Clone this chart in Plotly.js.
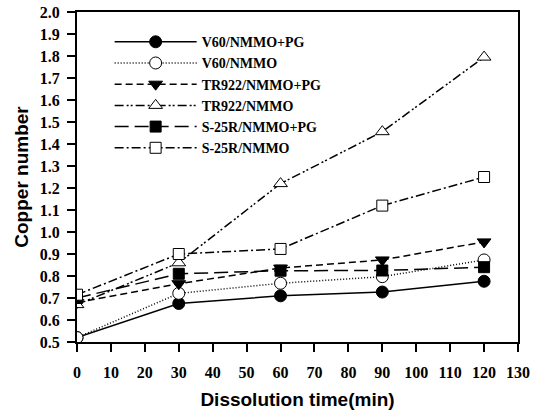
<!DOCTYPE html>
<html><head><meta charset="utf-8">
<script src="https://cdn.plot.ly/plotly-3.0.1.min.js"></script>
<style>html,body{margin:0;padding:0;background:#fff}#c{width:533px;height:416px}</style>
</head><body><div id="c"></div>
<script>
var time = [0, 30, 60, 90, 120];
var names = ["V60/NMMO+PG", "V60/NMMO", "TR922/NMMO+PG", "TR922/NMMO", "S-25R/NMMO+PG", "S-25R/NMMO"];
var v60PG = [0.52, 0.675, 0.71, 0.727, 0.776];
var v60 = [0.52, 0.721, 0.767, 0.797, 0.873];
var tr922PG = [0.68, 0.765, 0.836, 0.873, 0.955];
var tr922 = [0.67, 0.86, 1.22, 1.456, 1.795];
var s25rPG = [0.70, 0.81, 0.824, 0.825, 0.84];
var s25r = [0.715, 0.90, 0.923, 1.12, 1.25];
var xTicks = [0,10,20,30,40,50,60,70,80,90,100,110,120,130];
var yTicks = [0.5,0.6,0.7,0.8,0.9,1.0,1.1,1.2,1.3,1.4,1.5,1.6,1.7,1.8,1.9,2.0];

var series = [v60PG, v60, tr922PG, tr922, s25rPG, s25r];
var symbols = ["circle", "circle", "triangle-down", "triangle-up", "square", "square"];
var fills = ["black", "white", "black", "white", "black", "white"];
var dashes = ["solid", "1px,2px", "7px,4px", "9px,3px,2px,2px,2px,3px", "14px,6px", "9px,3px,2px,3px"];
var sizes = [12, 12, 12, 12, 11, 11];

var traces = series.map(function(s, i){
  return {
    x: time, y: s, name: "<b>" + names[i] + "</b>", type: "scatter", mode: "lines+markers",
    line: {color: "black", width: 1.5, dash: dashes[i]},
    marker: {symbol: symbols[i], size: sizes[i], color: fills[i], line: {color: "black", width: 1}}
  };
});

var serif = "Liberation Serif, Times New Roman, serif";
var sans = "Liberation Sans, Arial, sans-serif";
var tf = {family: serif, size: 16, color: "black", weight: 700};
var layout = {
  width: 533, height: 416,
  margin: {l: 77, r: 15, t: 12, b: 74},
  paper_bgcolor: "white", plot_bgcolor: "white",
  showlegend: true,
  legend: {x: 0.074, y: 0.957, xanchor: "left", yanchor: "top", bgcolor: "rgba(0,0,0,0)",
    font: {family: serif, size: 14, color: "black"},
    itemwidth: 82, tracegroupgap: 0},
  xaxis: {range: [0, 130], tickvals: xTicks, ticktext: xTicks.map(function(v){return "<b>" + v + "</b>";}), showgrid: false, zeroline: false,
    showline: true, linecolor: "black", linewidth: 2, mirror: true,
    ticks: "outside", ticklen: 8, tickwidth: 2, tickcolor: "black", tickfont: tf, ticklabelstandoff: 7,
    title: {text: "<b>Dissolution time(min)</b>", font: {family: sans, size: 19, color: "black"}, standoff: 12}},
  yaxis: {range: [0.5, 2.0], tickvals: yTicks, ticktext: yTicks.map(function(v){return "<b>" + v.toFixed(1) + "</b>";}), showgrid: false, zeroline: false,
    showline: true, linecolor: "black", linewidth: 2, mirror: true,
    ticks: "outside", ticklen: 8, tickwidth: 2, tickcolor: "black", tickfont: tf, ticklabelstandoff: 4,
    title: {text: "<b>Copper number</b>", font: {family: sans, size: 19, color: "black"}, standoff: 6}}
};
Plotly.newPlot("c", traces, layout, {displayModeBar: false, staticPlot: true});
</script></body></html>
